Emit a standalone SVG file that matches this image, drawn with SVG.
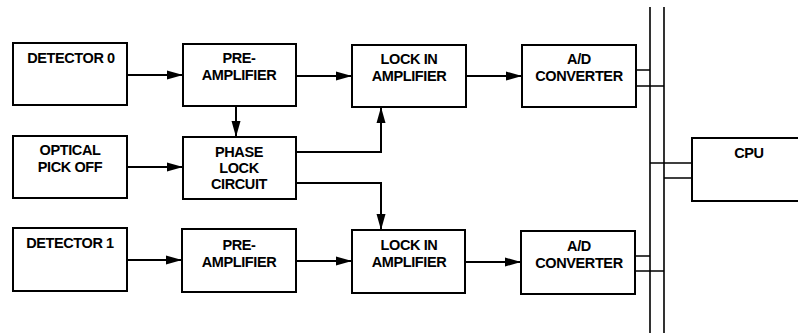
<svg xmlns="http://www.w3.org/2000/svg" width="798" height="333" viewBox="0 0 798 333">
<defs>
<marker id="arr" markerUnits="userSpaceOnUse" markerWidth="17" markerHeight="10" refX="16" refY="5" orient="auto">
<path d="M0,0.5 L16,5 L0,9.5 Z" fill="#000"/>
</marker>
<style>
rect.box{fill:#fff;stroke:#000;stroke-width:2}
text{font-family:"Liberation Sans",Arial,sans-serif;font-weight:bold;font-size:14.5px;letter-spacing:-0.4px;fill:#000;text-anchor:middle}
.c{fill:none;stroke:#000;stroke-width:2}
.bus{fill:none;stroke:#000;stroke-width:1.6}
</style>
</defs>
<rect width="798" height="333" fill="#fff"/>
<g id="connectors">
<path class="c" d="M127,75 H183" marker-end="url(#arr)"/>
<path class="c" d="M296,76 H352" marker-end="url(#arr)"/>
<path class="c" d="M466,76 H522" marker-end="url(#arr)"/>
<path class="c" d="M236,106 V137" marker-end="url(#arr)"/>
<path class="c" d="M127,167 H183" marker-end="url(#arr)"/>
<path class="c" d="M296,152 H381 V107" marker-end="url(#arr)"/>
<path class="c" d="M296,183 H381 V230" marker-end="url(#arr)"/>
<path class="c" d="M127,260 H182" marker-end="url(#arr)"/>
<path class="c" d="M296,261 H352" marker-end="url(#arr)"/>
<path class="c" d="M465,262 H521" marker-end="url(#arr)"/>
<path class="bus" d="M650,7 V333 M664,7 V333"/>
<path class="bus" d="M636,70 H650 M636,86 H664"/>
<path class="bus" d="M635,256 H650 M635,271 H664"/>
<path class="bus" d="M650,163 H692 M664,178 H692"/>
</g>
<g id="detector0"><rect class="box" x="13" y="43" width="114" height="62"/><text x="71" y="63">DETECTOR 0</text></g>
<g id="preamp0"><rect class="box" x="183" y="44" width="113" height="62"/><text x="239" y="63">PRE-</text><text x="239" y="80">AMPLIFIER</text></g>
<g id="lockin0"><rect class="box" x="352" y="45" width="114" height="62"/><text x="409" y="64">LOCK IN</text><text x="409" y="81">AMPLIFIER</text></g>
<g id="adc0"><rect class="box" x="522" y="45" width="114" height="62"/><text x="579" y="64">A/D</text><text x="579" y="81">CONVERTER</text></g>
<g id="optical"><rect class="box" x="13" y="136" width="114" height="62"/><text x="70" y="155">OPTICAL</text><text x="70" y="172">PICK OFF</text></g>
<g id="phaselock"><rect class="box" x="183" y="137" width="113" height="62"/><text x="239" y="157">PHASE</text><text x="239" y="173">LOCK</text><text x="239" y="189">CIRCUIT</text></g>
<g id="detector1"><rect class="box" x="13" y="228" width="114" height="63"/><text x="70" y="248">DETECTOR 1</text></g>
<g id="preamp1"><rect class="box" x="182" y="229" width="114" height="63"/><text x="239" y="250">PRE-</text><text x="239" y="267">AMPLIFIER</text></g>
<g id="lockin1"><rect class="box" x="352" y="230" width="113" height="63"/><text x="409" y="250">LOCK IN</text><text x="409" y="267">AMPLIFIER</text></g>
<g id="adc1"><rect class="box" x="521" y="231" width="114" height="63"/><text x="579" y="251">A/D</text><text x="579" y="268">CONVERTER</text></g>
<g id="cpu"><rect class="box" x="692" y="138" width="110" height="63"/><text x="749" y="158">CPU</text></g>
</svg>
